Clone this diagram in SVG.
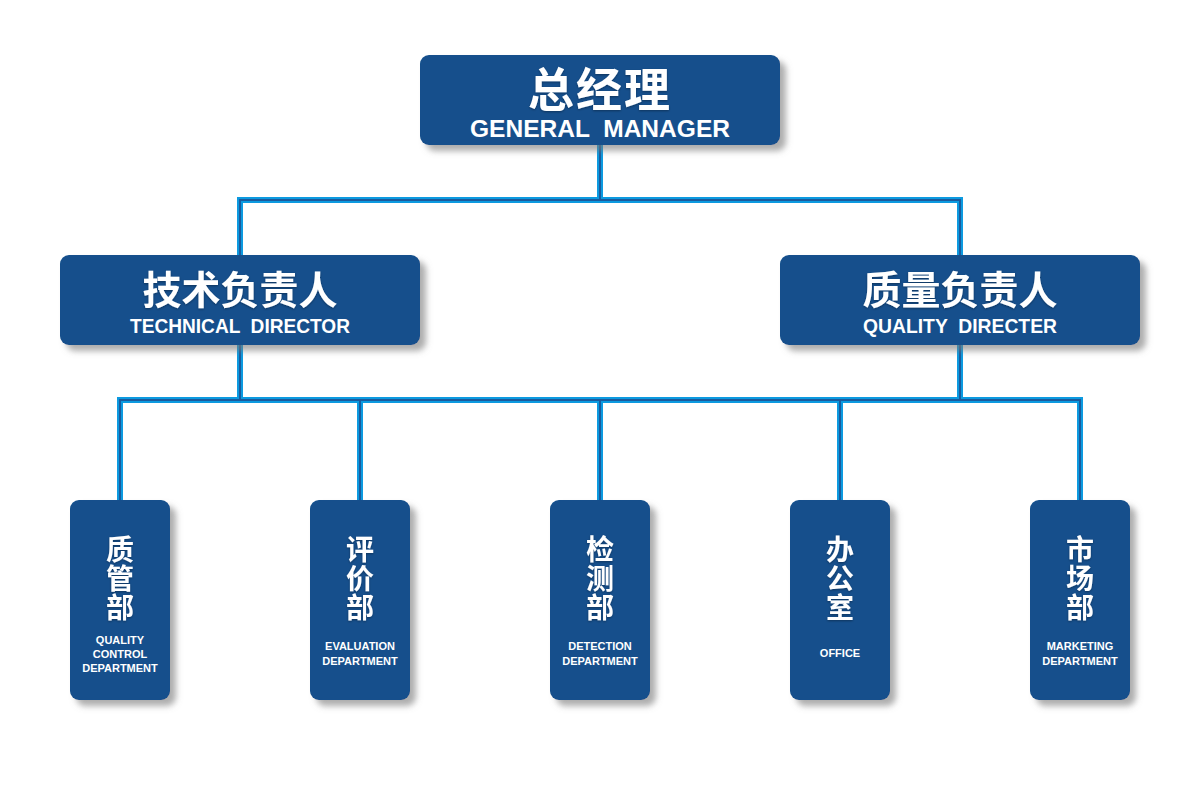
<svg xmlns="http://www.w3.org/2000/svg" width="1200" height="800" viewBox="0 0 1200 800">
<defs>
<filter id="sh" x="-10%" y="-10%" width="130%" height="130%">
<feDropShadow dx="6" dy="6" stdDeviation="3" flood-color="#777" flood-opacity="0.6"/>
</filter>
<filter id="ts" x="-10%" y="-10%" width="120%" height="130%">
<feDropShadow dx="0" dy="1" stdDeviation="0.8" flood-color="#000" flood-opacity="0.35"/>
</filter>
<style>
.box{fill:#134f8c;filter:url(#sh)}
.zh{font-family:"Noto Sans CJK SC","Noto Sans",sans-serif;font-weight:bold;fill:#fff;text-anchor:middle;filter:url(#ts)}
.en{font-family:"Liberation Sans",Arial,sans-serif;font-weight:bold;fill:#fff;text-anchor:middle}
.outer{fill:none;stroke:#0c9ae0;stroke-width:6}
.inner{fill:none;stroke:#1b5b9c;stroke-width:2}
.small{font-size:11px}
.vz{font-size:28px;writing-mode:vertical-rl;text-anchor:start;letter-spacing:1px}
</style>
</defs>
<rect width="1200" height="800" fill="#fff"/>
<g id="connectors">
<path class="outer" d="M600,145V200M240,255V200H960V255M240,345V400M960,345V400M120,500V400H1080V500M360,400V500M600,400V500M840,400V500"/>
<path class="inner" d="M600,145V200M240,255V200H960V255M240,345V400M960,345V400M120,500V400H1080V500M360,400V500M600,400V500M840,400V500"/>
</g>
<g id="gm">
<rect class="box" x="420" y="55" width="360" height="90" rx="9"/>
<text class="zh" x="600" y="106" font-size="46" letter-spacing="2">总经理</text>
<text class="en" x="600" y="137" font-size="24" textLength="260" lengthAdjust="spacingAndGlyphs" xml:space="preserve">GENERAL  MANAGER</text>
</g>
<g id="td">
<rect class="box" x="60" y="255" width="360" height="90" rx="9"/>
<text class="zh" x="240" y="304" font-size="39">技术负责人</text>
<text class="en" x="240" y="333" font-size="20" textLength="220" lengthAdjust="spacingAndGlyphs" xml:space="preserve">TECHNICAL  DIRECTOR</text>
</g>
<g id="qd">
<rect class="box" x="780" y="255" width="360" height="90" rx="9"/>
<text class="zh" x="960" y="304" font-size="39">质量负责人</text>
<text class="en" x="960" y="333" font-size="20" textLength="194" lengthAdjust="spacingAndGlyphs" xml:space="preserve">QUALITY  DIRECTER</text>
</g>
<g id="qc">
<rect class="box" x="70" y="500" width="100" height="200" rx="9"/>
<text class="zh vz" x="120" y="535">质管部</text>
<text class="en small" x="120" y="644">QUALITY</text>
<text class="en small" x="120" y="658">CONTROL</text>
<text class="en small" x="120" y="672">DEPARTMENT</text>
</g>
<g id="ev">
<rect class="box" x="310" y="500" width="100" height="200" rx="9"/>
<text class="zh vz" x="360" y="535">评价部</text>
<text class="en small" x="360" y="650">EVALUATION</text>
<text class="en small" x="360" y="665">DEPARTMENT</text>
</g>
<g id="de">
<rect class="box" x="550" y="500" width="100" height="200" rx="9"/>
<text class="zh vz" x="600" y="535">检测部</text>
<text class="en small" x="600" y="650">DETECTION</text>
<text class="en small" x="600" y="665">DEPARTMENT</text>
</g>
<g id="of">
<rect class="box" x="790" y="500" width="100" height="200" rx="9"/>
<text class="zh vz" x="840" y="535">办公室</text>
<text class="en small" x="840" y="657">OFFICE</text>
</g>
<g id="mk">
<rect class="box" x="1030" y="500" width="100" height="200" rx="9"/>
<text class="zh vz" x="1080" y="535">市场部</text>
<text class="en small" x="1080" y="650">MARKETING</text>
<text class="en small" x="1080" y="665">DEPARTMENT</text>
</g>
</svg>
